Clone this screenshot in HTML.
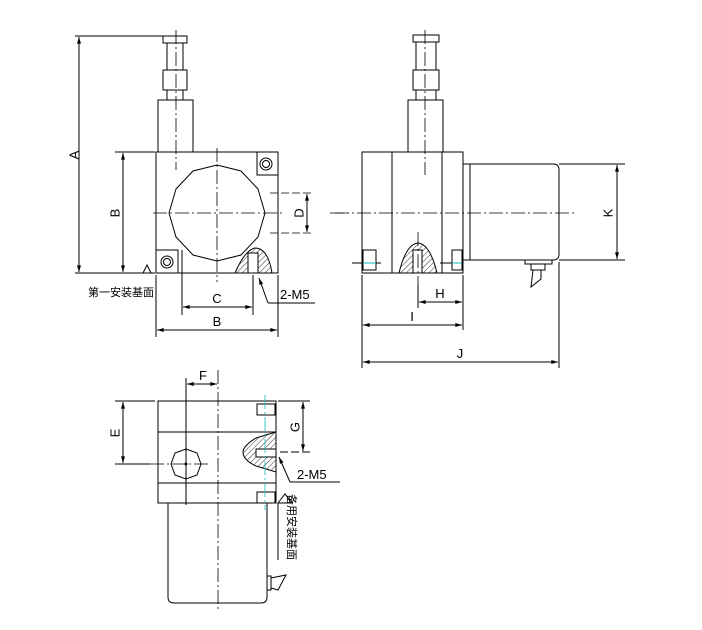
<!DOCTYPE html>
<html><head><meta charset="utf-8"><style>html,body{margin:0;background:#fff}svg{display:block}</style></head><body>
<svg width="702" height="630" viewBox="0 0 702 630" xmlns="http://www.w3.org/2000/svg" font-family="'Liberation Sans','Noto Sans CJK SC',sans-serif">
<defs>
<pattern id="h" width="4" height="4" patternUnits="userSpaceOnUse" patternTransform="rotate(45)"><line x1="0" y1="0" x2="0" y2="4" stroke="#000" stroke-width="0.8"/></pattern>
<marker id="a" viewBox="0 0 10 6" refX="10" refY="3" markerWidth="9" markerHeight="4" orient="auto-start-reverse"><path d="M0,0L10,3L0,6z" fill="#000"/></marker>
</defs>
<g fill="none" stroke="#000" stroke-width="1">
<!-- FRONT VIEW -->
<rect x="163" y="36" width="24" height="7"/>
<rect x="167" y="43" width="16" height="27"/>
<rect x="163" y="70" width="24" height="20"/>
<rect x="167" y="90" width="16" height="10"/>
<rect x="158" y="100" width="35" height="52"/>
<rect x="156" y="152" width="122" height="121"/>
<polygon points="217,165 241,171 258,189 265,213 258,237 241,255 217,261 193,255 176,237 169,213 176,189 193,171"/>
<path d="M257,152V175H278"/><circle cx="266" cy="164" r="6"/><circle cx="266" cy="164" r="3.5"/>
<path d="M156,250H178V273"/><circle cx="167" cy="262" r="6"/><circle cx="167" cy="262" r="3.5"/>
<path d="M235,273Q245,250 255,248Q268,248 272,273Z" fill="url(#h)"/>
<rect x="248" y="253" width="10" height="20" fill="#fff"/>
<g stroke-dasharray="14,3,2,3" stroke-width="0.8"><line x1="176" y1="30" x2="176" y2="170"/><line x1="217" y1="148" x2="217" y2="282"/><line x1="153" y1="213" x2="282" y2="213"/><line x1="330" y1="213" x2="350" y2="213"/></g>
<!-- dims front -->
<line x1="75" y1="36" x2="163" y2="36"/><line x1="79" y1="37" x2="79" y2="272" marker-start="url(#a)" marker-end="url(#a)"/>
<line x1="75" y1="273" x2="155" y2="273"/>
<line x1="115" y1="152" x2="155" y2="152"/><line x1="123" y1="153" x2="123" y2="272" marker-start="url(#a)" marker-end="url(#a)"/>
<path d="M143,273L147,265L151,273"/><line x1="87" y1="286" x2="148" y2="286" stroke-width="0.6" opacity="0"/>
<g stroke-dasharray="8,3" stroke-width="0.8"><line x1="270" y1="193" x2="314" y2="193"/><line x1="270" y1="233" x2="314" y2="233"/></g>
<line x1="307" y1="194" x2="307" y2="232" marker-start="url(#a)" marker-end="url(#a)"/>
<line x1="182" y1="250" x2="182" y2="315"/><line x1="253" y1="275" x2="253" y2="315"/>
<line x1="183" y1="307" x2="252" y2="307" marker-start="url(#a)" marker-end="url(#a)"/>
<path d="M268,303L259,278" marker-end="url(#a)"/><line x1="268" y1="303" x2="315" y2="303"/>
<line x1="156" y1="275" x2="156" y2="337"/><line x1="278" y1="275" x2="278" y2="337"/>
<line x1="157" y1="330" x2="277" y2="330" marker-start="url(#a)" marker-end="url(#a)"/>
<!-- SIDE VIEW -->
<rect x="413" y="35" width="26" height="7"/>
<rect x="416" y="42" width="20" height="28"/>
<rect x="413" y="70" width="26" height="20"/>
<rect x="416" y="90" width="20" height="10"/>
<rect x="408" y="100" width="35" height="52"/>
<rect x="362" y="152" width="101" height="121"/>
<line x1="392" y1="152" x2="392" y2="273"/><line x1="442" y1="152" x2="442" y2="273"/>
<rect x="463" y="164" width="7" height="96"/>
<path d="M470,164H553Q559,164 559,170V254Q559,260 553,260H470"/>
<path d="M525,260V264H552V260M531,264V270H545V264M533,270L531,287L541,279V270"/>
<rect x="363" y="250" width="13" height="20"/><rect x="452" y="250" width="10" height="20"/>
<g stroke="#1bb" stroke-width="1"><line x1="363" y1="263" x2="376" y2="263"/><line x1="452" y1="263" x2="462" y2="263"/></g>
<line x1="352" y1="263" x2="363" y2="263"/><line x1="376" y1="263" x2="381" y2="263"/><line x1="440" y1="263" x2="452" y2="263"/>
<path d="M399,273Q406,244 418,243Q430,244 437,273Z" fill="url(#h)"/>
<rect x="413" y="250" width="9" height="23" fill="#fff"/>
<g stroke-dasharray="14,3,2,3" stroke-width="0.8"><line x1="425" y1="30" x2="425" y2="175"/><line x1="335" y1="213" x2="575" y2="213"/><line x1="418" y1="232" x2="418" y2="285"/></g>
<line x1="418" y1="285" x2="418" y2="308"/>
<line x1="559" y1="164" x2="625" y2="164"/><line x1="559" y1="260" x2="625" y2="260"/>
<line x1="617" y1="165" x2="617" y2="259" marker-start="url(#a)" marker-end="url(#a)"/>
<line x1="362" y1="275" x2="362" y2="368"/><line x1="463" y1="275" x2="463" y2="330"/><line x1="559" y1="262" x2="559" y2="368"/>
<line x1="419" y1="302" x2="462" y2="302" marker-start="url(#a)" marker-end="url(#a)"/>
<line x1="363" y1="325" x2="462" y2="325" marker-start="url(#a)" marker-end="url(#a)"/>
<line x1="363" y1="362" x2="558" y2="362" marker-start="url(#a)" marker-end="url(#a)"/>
<!-- BOTTOM VIEW -->
<rect x="158" y="401" width="118" height="102"/>
<line x1="158" y1="432" x2="276" y2="432"/><line x1="158" y1="483" x2="276" y2="483"/>
<path d="M168,503V597Q168,603 174,603H261Q267,603 267,597V503"/>
<path d="M267,576H271V590H267M271,578L286,575L278,590L271,588"/>
<rect x="257" y="404" width="18" height="11"/><rect x="257" y="492" width="18" height="11"/>
<path d="M276,432L256,438Q243,446 243,452Q243,460 256,466L276,472Z" fill="url(#h)"/>
<rect x="256" y="449" width="20" height="8" fill="#fff"/>
<polygon points="186,449 197,453 201,464 197,475 186,479 175,475 171,464 175,453"/>
<circle cx="186" cy="464" r="1" fill="#000"/>
<g stroke-dasharray="14,3,2,3" stroke-width="0.8"><line x1="218" y1="370" x2="218" y2="612"/><line x1="150" y1="464" x2="210" y2="464"/><line x1="265" y1="395" x2="265" y2="510" stroke="#1bb"/></g>
<line x1="186" y1="378" x2="186" y2="505"/>
<line x1="187" y1="384" x2="217" y2="384" marker-start="url(#a)" marker-end="url(#a)"/>
<line x1="115" y1="401" x2="155" y2="401"/><line x1="115" y1="464" x2="150" y2="464"/>
<line x1="123" y1="402" x2="123" y2="463" marker-start="url(#a)" marker-end="url(#a)"/>
<line x1="278" y1="401" x2="310" y2="401"/><line x1="280" y1="452" x2="310" y2="452" stroke-dasharray="8,3"/>
<line x1="303" y1="402" x2="303" y2="451" marker-start="url(#a)" marker-end="url(#a)"/>
<path d="M290,482L279,457" marker-end="url(#a)"/><line x1="290" y1="482" x2="340" y2="482"/>
<path d="M278,503L285,494L292,503Z"/><line x1="278" y1="503" x2="278" y2="560"/>
</g>
<g font-size="13" fill="#000">
<text x="75" y="155" transform="rotate(-90 75 155)" text-anchor="middle" dominant-baseline="middle">A</text>
<text x="116" y="213" transform="rotate(-90 116 213)" text-anchor="middle" dominant-baseline="middle">B</text>
<text x="300" y="213" transform="rotate(-90 300 213)" text-anchor="middle" dominant-baseline="middle">D</text>
<text x="217" y="303" text-anchor="middle">C</text>
<text x="217" y="326" text-anchor="middle">B</text>
<text x="280" y="299">2-M5</text>
<text x="88" y="296" font-size="11">第一安装基面</text>
<text x="440" y="298" text-anchor="middle">H</text>
<text x="412" y="321" text-anchor="middle">I</text>
<text x="460" y="358" text-anchor="middle">J</text>
<text x="609" y="213" transform="rotate(-90 609 213)" text-anchor="middle" dominant-baseline="middle">K</text>
<text x="203" y="380" text-anchor="middle">F</text>
<text x="116" y="433" transform="rotate(-90 116 433)" text-anchor="middle" dominant-baseline="middle">E</text>
<text x="296" y="427" transform="rotate(-90 296 427)" text-anchor="middle" dominant-baseline="middle">G</text>
<text x="297" y="479">2-M5</text>
<text x="291" y="527" font-size="11" transform="rotate(90 291 527)" text-anchor="middle" dominant-baseline="middle">备用安装基面</text>
</g>
</svg>
</body></html>
